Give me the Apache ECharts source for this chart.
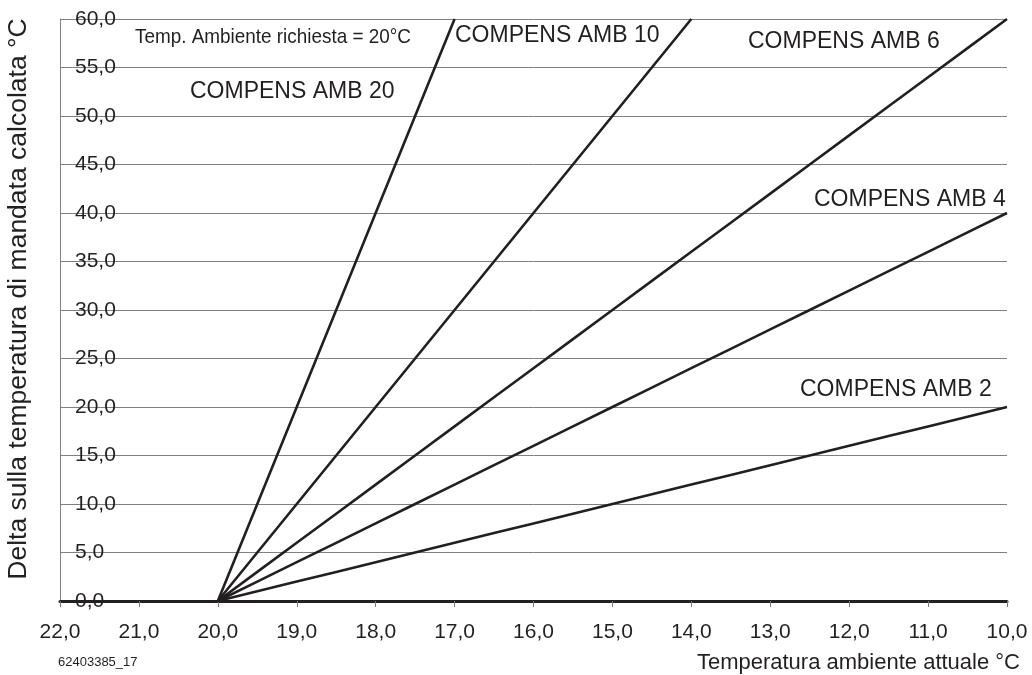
<!DOCTYPE html>
<html>
<head>
<meta charset="utf-8">
<script src="https://cdn.jsdelivr.net/npm/echarts@6/dist/echarts.min.js"></script>
<style>
html,body{margin:0;padding:0;background:#fff;}
#chart{width:1032px;height:675px;}
</style>
</head>
<body>
<div id="chart"></div>
<script>
// Data
const temps = [20, 19.5, 19, 18.5, 18, 17.5, 17, 16.5, 16, 15.5, 15, 14.5, 14, 13.5, 13, 12.5, 12, 11.5, 11, 10.5, 10];
const amb2  = [0, 1, 2, 3, 4, 5, 6, 7, 8, 9, 10, 11, 12, 13, 14, 15, 16, 17, 18, 19, 20];
const amb4  = [0, 2, 4, 6, 8, 10, 12, 14, 16, 18, 20, 22, 24, 26, 28, 30, 32, 34, 36, 38, 40];
const amb6  = [0, 3, 6, 9, 12, 15, 18, 21, 24, 27, 30, 33, 36, 39, 42, 45, 48, 51, 54, 57, 60];
const amb10 = [0, 5, 10, 15, 20, 25, 30, 35, 40, 45, 50, 55, 60];
const amb20 = [0, 10, 20, 30, 40, 50, 60];
const seriesNames = ['COMPENS AMB 2', 'COMPENS AMB 4', 'COMPENS AMB 6', 'COMPENS AMB 10', 'COMPENS AMB 20'];
const xTitle = 'Temperatura ambiente attuale °C';
const yTitle = 'Delta sulla temperatura di mandata calcolata °C';
const noteText = 'Temp. Ambiente richiesta = 20°C';
const codeText = '62403385_17';

const FONT = "'Liberation Sans', Arial, sans-serif";
const INK = '#231f20';
const fmt = v => v.toFixed(1).replace('.', ',');
const pairs = arr => arr.map((v, i) => [temps[i], v]);

const chart = echarts.init(document.getElementById('chart'), null, {renderer: 'canvas'});
const allData = [amb2, amb4, amb6, amb10, amb20];
const lbl = (text, x, y) => ({type: 'text', x: x, y: y,
  style: {text: text, font: "23px 'Liberation Sans', sans-serif", fill: INK, align: 'left', verticalAlign: 'middle'}});

chart.setOption({
  animation: false,
  backgroundColor: '#ffffff',
  grid: {left: 60, right: 25, top: 19, bottom: 74, containLabel: false},
  xAxis: {
    type: 'value', inverse: true, min: 10, max: 22, interval: 1,
    axisLine: {show: true, onZero: false, lineStyle: {color: INK, width: 3}},
    axisTick: {show: true, length: 6, lineStyle: {color: '#777', width: 1}},
    axisLabel: {formatter: fmt, color: INK, fontFamily: FONT, fontSize: 21, margin: 21},
    splitLine: {show: false}
  },
  yAxis: {
    type: 'value', min: 0, max: 60, interval: 5,
    axisLine: {show: true, lineStyle: {color: '#808080', width: 1}},
    axisTick: {show: false},
    axisLabel: {inside: true, margin: 15, formatter: fmt, color: INK, fontFamily: FONT, fontSize: 21, padding: [3, 0, 0, 0]},
    splitLine: {show: true, lineStyle: {color: '#808080', width: 1}}
  },
  series: allData.map((arr, i) => ({
    name: seriesNames[i],
    type: 'line',
    data: pairs(arr),
    symbol: 'none',
    smooth: false,
    z: 5,
    lineStyle: {color: INK, width: 2.6}
  })),
  graphic: [
    {type: 'text', x: 135, y: 37, scaleX: 0.9, originX: 0, originY: 0,
      style: {text: noteText, font: "21px 'Liberation Sans', sans-serif", fill: INK, align: 'left', verticalAlign: 'middle'}},
    lbl(seriesNames[4], 190, 92),
    lbl(seriesNames[3], 455, 36),
    lbl(seriesNames[2], 748, 42),
    lbl(seriesNames[1], 814, 200),
    lbl(seriesNames[0], 800, 390),
    {type: 'text', x: 58, y: 662, style: {text: codeText, font: "13px 'Liberation Sans', sans-serif", fill: INK, align: 'left', verticalAlign: 'middle'}},
    {type: 'text', x: 1020, y: 663, style: {text: xTitle, font: "22px 'Liberation Sans', sans-serif", fill: INK, align: 'right', verticalAlign: 'middle'}},
    {type: 'text', x: 19, y: 299, rotation: Math.PI / 2,
      style: {text: yTitle, font: "26.5px 'Liberation Sans', sans-serif", fill: INK, align: 'center', verticalAlign: 'middle'}}
  ]
});
</script>
</body>
</html>
